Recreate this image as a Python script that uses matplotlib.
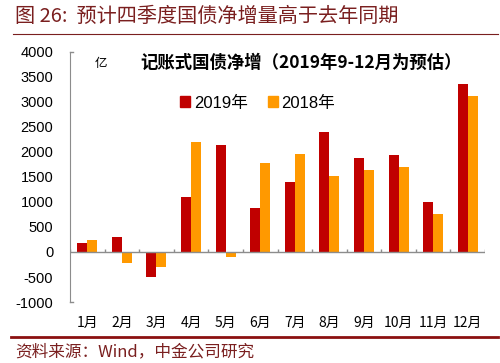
import numpy as np
import matplotlib.pyplot as plt
from matplotlib.lines import Line2D
from matplotlib.patches import Patch

plt.rcParams['font.family'] = ['Liberation Sans', 'Noto Sans CJK SC', 'DejaVu Sans']

months = ["1月", "2月", "3月", "4月", "5月", "6月", "7月", "8月", "9月", "10月", "11月", "12月"]
net_2019 = [170, 300, -500, 1090, 2140, 870, 1390, 2400, 1880, 1930, 990, 3350]
net_2018 = [240, -220, -290, 2200, -100, 1780, 1950, 1520, 1640, 1690, 750, 3110]
yticks = [-1000, -500, 0, 500, 1000, 1500, 2000, 2500, 3000, 3500, 4000]

RED = "#C00000"
ORANGE = "#FF9900"
DARK = "#7A1F1F"
CJK = ['Noto Sans CJK SC', 'DejaVu Sans']

fig = plt.figure(figsize=(5, 3.63), dpi=100)
ax = fig.add_axes([0.14, 0.168, 0.83, 0.689])

x = np.arange(len(months))
w = 0.29
ax.bar(x - w / 2, net_2019, w, color=RED, label="2019年")
ax.bar(x + w / 2, net_2018, w, color=ORANGE, label="2018年")

ax.set_xlim(-0.5, len(months) - 0.5)
ax.set_ylim(-1000, 4000)
ax.set_yticks(yticks)
ax.set_yticklabels([str(v) for v in yticks], fontsize=10.5)
ax.tick_params(axis='y', length=0, pad=12)

# category axis at zero with small upward boundary ticks
ax.axhline(0, color="#8C8C8C", lw=1.0, zorder=3)
ax.vlines(np.arange(len(months) + 1) - 0.5, 0, 60, color="#8C8C8C", lw=1.0, zorder=3)
ax.set_xticks(x)
ax.set_xticklabels(months, fontsize=10, family=CJK)
ax.tick_params(axis='x', length=0, pad=10)

for s in ["top", "right", "bottom"]:
    ax.spines[s].set_visible(False)
ax.spines["left"].set_color("#8C8C8C")
ax.plot([-0.5, -0.42], [4000, 4000], color="#8C8C8C", lw=1, clip_on=False)
ax.plot([-0.5, -0.42], [-1000, -1000], color="#8C8C8C", lw=1, clip_on=False)

ax.text(0.06, 0.98, "亿", transform=ax.transAxes, fontsize=9, family=CJK, va="top", ha="left")
fig.text(0.602, 0.828, "记账式国债净增（2019年9-12月为预估）", fontsize=12.5, fontweight="bold",
         family=CJK, ha="center", va="center")

handles = [Patch(color=RED), Patch(color=ORANGE)]
fig.legend(handles, ["2019年", "2018年"], loc="center", bbox_to_anchor=(0.515, 0.716), ncol=2,
           frameon=False, handlelength=0.6, handleheight=0.6, handletextpad=0.2,
           columnspacing=1.2, prop={'family': ['Liberation Sans', 'Noto Sans CJK SC'], 'size': 12})

# header and footer
fig.text(0.03, 0.955, "图 26:  预计四季度国债净增量高于去年同期", fontsize=14.5, color=DARK,
         style="italic", family=CJK, ha="left", va="center")
fig.add_artist(Line2D([0.025, 0.995], [0.905, 0.905], color=DARK, lw=0.8))
fig.add_artist(Line2D([0.022, 0.995], [0.072, 0.072], color="#8B1010", lw=2))
fig.text(0.03, 0.03, "资料来源：Wind，中金公司研究", fontsize=12, color=DARK,
         style="italic", family=CJK, ha="left", va="center")

fig.savefig("out.png", dpi=100)
